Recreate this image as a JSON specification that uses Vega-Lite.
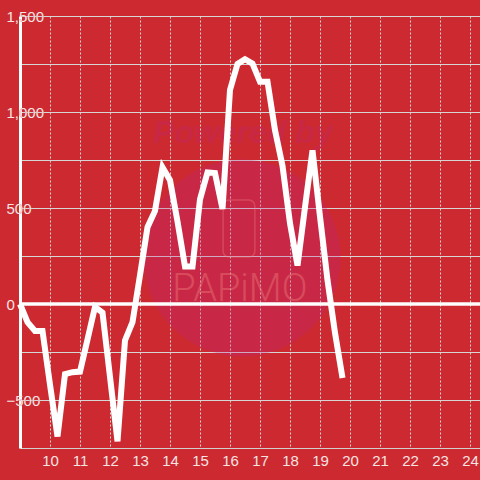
{
  "$schema": "https://vega.github.io/schema/vega-lite/v6.json",
  "width": 460,
  "height": 432,
  "autosize": "none",
  "padding": {"left": 20, "top": 16, "right": 0, "bottom": 32},
  "background": "#cc2a30",
  "config": {
    "view": {"stroke": null},
    "font": "Liberation Sans",
    "axis": {"labelFont": "Liberation Sans", "labelFontSize": 15, "labelFlush": false, "labelOverlap": false}
  },
  "datasets": {
    "series": [
      {"x": 9, "v": 0}, {"x": 9.25, "v": -95}, {"x": 9.5, "v": -140}, {"x": 9.75, "v": -140},
      {"x": 10, "v": -420}, {"x": 10.25, "v": -690}, {"x": 10.5, "v": -365}, {"x": 10.75, "v": -355},
      {"x": 11, "v": -352}, {"x": 11.25, "v": -185}, {"x": 11.5, "v": -15}, {"x": 11.75, "v": -45},
      {"x": 12, "v": -380}, {"x": 12.25, "v": -715}, {"x": 12.5, "v": -190}, {"x": 12.75, "v": -95},
      {"x": 13, "v": 150}, {"x": 13.25, "v": 400}, {"x": 13.5, "v": 485}, {"x": 13.75, "v": 712},
      {"x": 14, "v": 645}, {"x": 14.25, "v": 430}, {"x": 14.5, "v": 195}, {"x": 14.75, "v": 195},
      {"x": 15, "v": 545}, {"x": 15.25, "v": 685}, {"x": 15.5, "v": 682}, {"x": 15.75, "v": 495},
      {"x": 16, "v": 1115}, {"x": 16.25, "v": 1250}, {"x": 16.5, "v": 1275}, {"x": 16.75, "v": 1252},
      {"x": 17, "v": 1158}, {"x": 17.25, "v": 1158}, {"x": 17.5, "v": 905}, {"x": 17.75, "v": 720},
      {"x": 18, "v": 420}, {"x": 18.25, "v": 200}, {"x": 18.5, "v": 505}, {"x": 18.75, "v": 800},
      {"x": 19, "v": 455}, {"x": 19.25, "v": 125}, {"x": 19.5, "v": -150}, {"x": 19.75, "v": -385}
    ],
    "watermark": [
      {"label": "Powered by", "x": 16.43, "v": 890},
      {"label": "PAPiMO", "x": 16.33, "v": 73}
    ],
    "badge": [{"x": 16.4, "v": 240}],
    "phone": [{"x": 15.77, "x2": 16.83, "v": 542, "v2": 245}]
  },
  "encoding": {
    "x": {
      "field": "x", "type": "quantitative",
      "scale": {"domain": [9, 24.3333], "nice": false, "zero": false},
      "axis": {
        "title": null,
        "values": [10, 11, 12, 13, 14, 15, 16, 17, 18, 19, 20, 21, 22, 23, 24],
        "grid": true, "gridColor": "#d6d6d6", "gridDash": [2, 2], "gridWidth": 1,
        "domain": true, "domainColor": "#d0d0d0", "domainWidth": 1,
        "ticks": false, "tickSize": 0, "labelPadding": 5, "labelColor": "#f5e4e4"
      }
    }
  },
  "layer": [
    {
      "data": {"name": "badge"},
      "mark": {"type": "point", "filled": true, "color": "#bc2288", "opacity": 0.25, "size": 38800, "shape": "circle"},
      "encoding": {
        "y": {"field": "v", "type": "quantitative", "scale": {"domain": [-750, 1500], "nice": false, "zero": false}, "axis": null}
      }
    },
    {
      "data": {"name": "phone"},
      "mark": {"type": "rect", "filled": false, "stroke": "#f08080", "strokeWidth": 1.5, "strokeOpacity": 0.35, "cornerRadius": 6},
      "encoding": {
        "x2": {"field": "x2"},
        "y": {"field": "v", "type": "quantitative", "axis": null},
        "y2": {"field": "v2"}
      }
    },
    {
      "data": {"name": "watermark"},
      "transform": [{"filter": "datum.label == 'Powered by'"}],
      "mark": {"type": "text", "font": "Liberation Sans", "fontSize": 32, "fontWeight": "bold", "fontStyle": "italic", "color": "#c4266a", "opacity": 0.35, "align": "center", "baseline": "middle"},
      "encoding": {
        "y": {"field": "v", "type": "quantitative", "axis": null},
        "text": {"field": "label"}
      }
    },
    {
      "data": {"name": "watermark"},
      "transform": [{"filter": "datum.label == 'PAPiMO'"}],
      "mark": {"type": "text", "font": "Roboto", "fontSize": 38, "fontWeight": 300, "color": "#f08080", "opacity": 0.4, "align": "center", "baseline": "middle"},
      "encoding": {
        "y": {"field": "v", "type": "quantitative", "axis": null},
        "text": {"field": "label"}
      }
    },
    {
      "data": {"name": "series"},
      "mark": {"type": "line", "opacity": 0},
      "encoding": {
        "y": {
          "field": "v", "type": "quantitative",
          "axis": {
            "orient": "left", "title": null,
            "values": [-500, -250, 250, 500, 750, 1000, 1250, 1500],
            "grid": true, "gridColor": "#d6d6d6", "gridWidth": 1,
            "domain": true, "domainColor": "#ffffff", "domainWidth": 3,
            "labels": false, "ticks": false, "tickSize": 0
          }
        }
      }
    },
    {
      "data": {"name": "series"},
      "mark": {"type": "line", "opacity": 0},
      "encoding": {
        "y": {
          "field": "v", "type": "quantitative",
          "axis": {
            "orient": "left", "title": null,
            "values": [-500, 0, 500, 1000, 1500], "format": ",d",
            "grid": false, "domain": false, "ticks": false, "tickSize": 0,
            "labelAlign": "left", "labelBaseline": "middle", "labelPadding": 14,
            "labelColor": "#cc2a30",
            "encode": {"labels": {"update": {"stroke": {"value": "#cc2a30"}, "strokeWidth": {"value": 6}, "strokeJoin": {"value": "round"}}}}
          }
        }
      }
    },
    {
      "data": {"name": "series"},
      "mark": {"type": "rule", "color": "#ffffff", "strokeWidth": 3.5},
      "encoding": {
        "x": {"aggregate": "min", "field": "x", "type": "quantitative"},
        "x2": {"datum": 24.3333},
        "y": {"datum": 0, "type": "quantitative", "axis": null}
      }
    },
    {
      "data": {"name": "series"},
      "mark": {"type": "line", "color": "#ffffff", "strokeWidth": 6},
      "encoding": {
        "y": {
          "field": "v", "type": "quantitative",
          "axis": {
            "orient": "left", "title": null,
            "values": [-500, 0, 500, 1000, 1500], "format": ",d",
            "grid": false, "domain": false, "ticks": false, "tickSize": 0,
            "labelAlign": "left", "labelBaseline": "middle", "labelPadding": 14,
            "labelColor": "#f5e4e4"
          }
        }
      }
    }
  ],
  "resolve": {"axis": {"y": "independent"}}
}
